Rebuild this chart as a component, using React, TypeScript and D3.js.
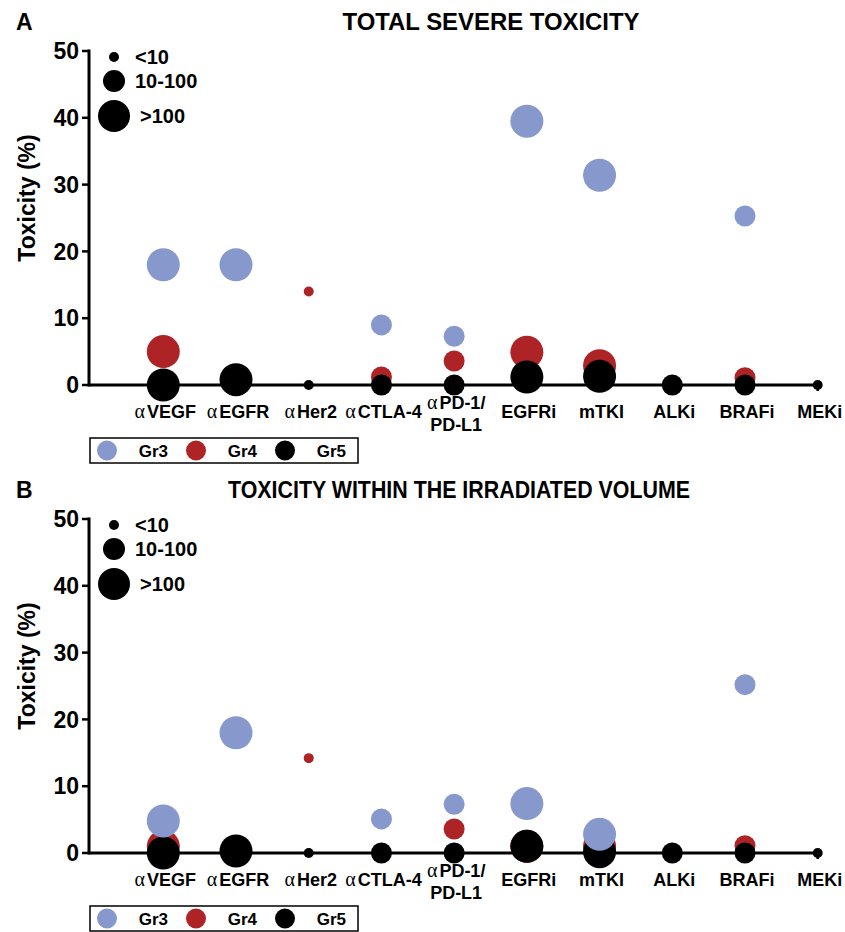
import React from 'react';
import * as d3 from 'd3';

// categories on the x axis, with the sample-size class of each
const categories = ['αVEGF', 'αEGFR', 'αHer2', 'αCTLA-4', 'αPD-1/|PD-L1', 'EGFRi', 'mTKI', 'ALKi', 'BRAFi', 'MEKi'];
const sizeClasses = ['<10', '10-100', '>100'];
const categorySize = ['>100', '>100', '<10', '10-100', '10-100', '>100', '>100', '10-100', '10-100', '<10'];

const grades = ['Gr3', 'Gr4', 'Gr5'];
const yTicks = [0, 10, 20, 30, 40, 50];
const titles = ['TOTAL SEVERE TOXICITY', 'TOXICITY WITHIN THE IRRADIATED VOLUME'];
const panelLetters = ['A', 'B'];

// panel A: total severe toxicity (%)
const gr3A = [18, 18, null, 9, 7.3, 39.5, 31.4, null, 25.3, null];
const gr4A = [5, null, 14, 1.2, 3.6, 4.9, 2.9, null, 1.1, null];
const gr5A = [0, 0.8, 0, 0, 0, 1.2, 1.3, 0, 0, 0];

// panel B: toxicity within the irradiated volume (%)
const gr3B = [4.8, 18, null, 5.1, 7.3, 7.4, 2.8, null, 25.2, null];
const gr4B = [1.0, null, 14.2, null, 3.6, 1.0, 1.0, null, 1.1, null];
const gr5B = [0, 0.3, 0, 0, 0, 1.0, 0.2, 0, 0, 0];

const COLORS: Record<string, string> = { Gr3: '#8798CC', Gr4: '#AD2326', Gr5: '#000000' };
const SANS = '"Liberation Sans", Arial, Helvetica, sans-serif';
const SERIF = '"Liberation Serif", "Times New Roman", serif';

const AXIS_X = 89;
const x = d3.scalePoint<string>().domain(categories).range([163.3, 817.7]);
const radius = d3.scaleOrdinal<string, number>().domain(sizeClasses).range([5, 10.5, 16.5]);

const Label: React.FC<{ text: string; x: number; y: number; size: number }> = ({ text, x, y, size }) => {
  const alpha = text.startsWith('α');
  const rest = alpha ? text.slice(1) : text;
  return (
    <text x={x} y={y} textAnchor="middle" fontSize={size} fontWeight="bold" fontFamily={SANS}>
      {alpha && <tspan fontFamily={SERIF} fontWeight="normal" fontSize={size + 2}>α</tspan>}
      <tspan dx={alpha ? 2 : 0}>{rest}</tspan>
    </text>
  );
};

interface PanelProps {
  top: number;
  idx: number;
  titleX: number;
  titleW: number;
  series: (number | null)[][];
}

const Panel: React.FC<PanelProps> = ({ top, idx, titleX, titleW, series }) => {
  const y = d3.scaleLinear().domain([0, 50]).range([top + 334, top]);
  const y0 = y(0);
  const [g3, g4, g5] = series;
  // draw order: Gr4, Gr5, then Gr3 on top
  const layers: [string, (number | null)[]][] = [['Gr4', g4], ['Gr5', g5], ['Gr3', g3]];
  const xEnd = x('MEKi')!;

  return (
    <g>
      <text x={16} y={top - 21} fontSize={23} fontWeight="bold" fontFamily={SANS}>{panelLetters[idx]}</text>
      <text x={titleX} y={top - 21} textAnchor="middle" fontSize={24} fontWeight="bold" fontFamily={SANS}
        textLength={titleW} lengthAdjust="spacingAndGlyphs">{titles[idx]}</text>

      {/* y axis */}
      <line x1={AXIS_X} x2={AXIS_X} y1={top - 1.5} y2={y0 + 1.5} stroke="#000" strokeWidth={3} />
      {yTicks.map(t => (
        <g key={t}>
          <line x1={AXIS_X - 7} x2={AXIS_X} y1={y(t)} y2={y(t)} stroke="#000" strokeWidth={2.5} />
          <text x={79} y={y(t)} dy="0.36em" textAnchor="end" fontSize={23} fontWeight="bold" fontFamily={SANS}>{t}</text>
        </g>
      ))}
      <text transform={`translate(35, ${y(28)}) rotate(-90)`} textAnchor="middle" fontSize={23} fontWeight="bold" fontFamily={SANS}>
        Toxicity (%)
      </text>

      {/* x axis */}
      <line x1={AXIS_X} x2={xEnd} y1={y0} y2={y0} stroke="#000" strokeWidth={3} />
      <line x1={xEnd} x2={xEnd} y1={y0} y2={y0 + 6} stroke="#000" strokeWidth={2.5} />
      {categories.map(c => {
        const lines = c.split('|');
        const cx = x(c)!;
        if (lines.length === 1) return <Label key={c} text={c} x={cx + 2} y={y0 + 33} size={18} />;
        return (
          <g key={c}>
            <Label text={lines[0]} x={cx + 2} y={y0 + 24} size={18} />
            <Label text={lines[1]} x={cx + 2} y={y0 + 46} size={18} />
          </g>
        );
      })}

      {/* bubbles */}
      {layers.map(([g, vals]) => (
        <g key={g}>
          {vals.map((v, i) => v == null ? null : (
            <circle key={i} cx={x(categories[i])} cy={y(v)} r={radius(categorySize[i])} fill={COLORS[g]} />
          ))}
        </g>
      ))}

      {/* size legend */}
      {sizeClasses.map((s, i) => {
        const cy = top + [6, 30, 65][i];
        return (
          <g key={s}>
            <circle cx={114} cy={cy} r={[5, 11, 16][i]} fill="#000" />
            <text x={i === 2 ? 140 : 135} y={cy} dy="0.36em" fontSize={20} fontWeight="bold" fontFamily={SANS}>{s}</text>
          </g>
        );
      })}

      {/* grade legend */}
      <rect x={90} y={y0 + 53} width={268} height={25} fill="none" stroke="#000" strokeWidth={1.5} />
      {grades.map((g, i) => (
        <g key={g}>
          <circle cx={107 + i * 89} cy={y0 + 65.5} r={10} fill={COLORS[g]} />
          <text x={168 + i * 89} y={y0 + 65.5} dy="0.36em" textAnchor="end" fontSize={17} fontWeight="bold" fontFamily={SANS}>{g}</text>
        </g>
      ))}
    </g>
  );
};

export default function App() {
  return (
    <svg width={845} height={932} viewBox="0 0 845 932"
      style={{ position: 'absolute', left: 0, top: 0, background: '#fff' }}>
      <rect width={845} height={932} fill="#fff" />
      <Panel top={51} idx={0} titleX={491} titleW={297} series={[gr3A, gr4A, gr5A]} />
      <Panel top={519} idx={1} titleX={459} titleW={462} series={[gr3B, gr4B, gr5B]} />
    </svg>
  );
}
